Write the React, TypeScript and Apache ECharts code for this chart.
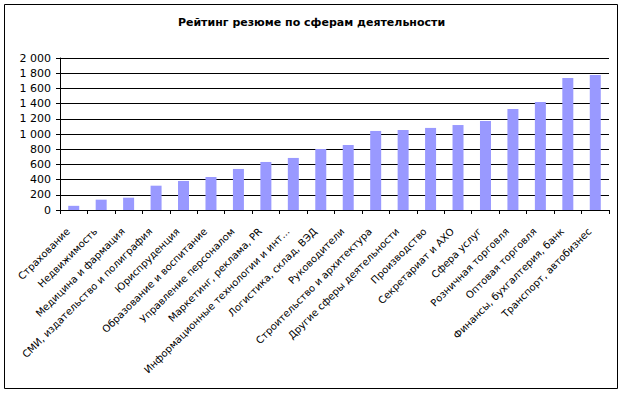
import React, { useEffect, useRef } from "react";
import * as echarts from "echarts";

const categories = [
  "Страхование",
  "Недвижимость",
  "Медицина и фармация",
  "СМИ, издательство и полиграфия",
  "Юриспруденция",
  "Образование и воспитание",
  "Управление персоналом",
  "Маркетинг, реклама, PR",
  "Информационные технологии и инт...",
  "Логистика, склад, ВЭД",
  "Руководители",
  "Строительство и архитектура",
  "Другие сферы деятельности",
  "Производство",
  "Секретариат и АХО",
  "Сфера услуг",
  "Розничная торговля",
  "Оптовая торговля",
  "Финансы, бухгалтерия, банк",
  "Транспорт, автобизнес",
];

const values = [
  55, 136, 162, 320, 382, 434, 540, 632, 685, 803, 855, 1040, 1053, 1080, 1118,
  1171, 1330, 1421, 1737, 1776,
];

const title = "Рейтинг резюме по сферам деятельности";

const fmt = (v: number) =>
  String(v).replace(/\B(?=(\d{3})+(?!\d))/g, " ");

export default function App() {
  const ref = useRef<HTMLDivElement>(null);
  useEffect(() => {
    if (!ref.current) return;
    const chart = echarts.init(ref.current, null, { renderer: "svg" });
    const font = "'DejaVu Sans', Verdana, sans-serif";
    chart.setOption({
      animation: false,
      backgroundColor: "#ffffff",
      textStyle: { fontFamily: font },
      title: {
        text: title,
        left: "center",
        top: 12,
        textStyle: {
          fontFamily: font,
          fontSize: 11,
          fontWeight: "bold",
          color: "#000",
        },
      },
      graphic: [
        {
          type: "rect",
          shape: { x: 4.5, y: 4.5, width: 613, height: 384 },
          style: { fill: "none", stroke: "#000", lineWidth: 1 },
          silent: true,
        },
      ],
      grid: { left: 60, right: 14, top: 58, bottom: 183, containLabel: false },
      xAxis: {
        type: "category",
        data: categories,
        axisLine: { show: true, lineStyle: { color: "#000", width: 1 } },
        axisTick: {
          show: true,
          interval: 0,
          alignWithLabel: false,
          length: 4,
          lineStyle: { color: "#000" },
        },
        axisLabel: {
          interval: 0,
          rotate: 45,
          margin: 14,
          padding: [0, 8, 0, 0],
          fontSize: 10,
          fontFamily: font,
          color: "#000",
        },
      },
      yAxis: {
        type: "value",
        min: 0,
        max: 2000,
        interval: 200,
        axisLine: { show: true, lineStyle: { color: "#000", width: 1 } },
        axisTick: { show: true, length: 4, lineStyle: { color: "#000" } },
        axisLabel: {
          formatter: (v: number) => fmt(v),
          fontSize: 11,
          fontFamily: font,
          color: "#000",
          margin: 9,
        },
        splitLine: { show: true, lineStyle: { color: "#000", width: 1 } },
      },
      series: [
        {
          type: "bar",
          data: values,
          barWidth: 11,
          itemStyle: { color: "#9999FF" },
        },
      ],
    });
    return () => chart.dispose();
  }, []);
  return (
    <div
      ref={ref}
      style={{ position: "fixed", left: 0, top: 0, width: 623, height: 393 }}
    />
  );
}
